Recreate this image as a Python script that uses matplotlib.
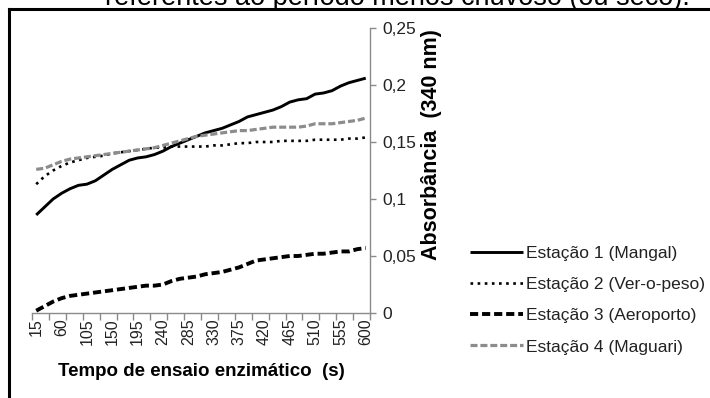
import matplotlib.pyplot as plt
from matplotlib.lines import Line2D
from matplotlib.ticker import FixedLocator, FuncFormatter

plt.rcParams['font.family'] = ['Liberation Sans', 'DejaVu Sans']

# Tempo (s) every 15 s from 15 to 600
tempo = list(range(15, 601, 15))

est1 = [0.086, 0.093, 0.100, 0.105, 0.109, 0.112, 0.113, 0.116, 0.121, 0.126,
        0.130, 0.134, 0.136, 0.137, 0.139, 0.142, 0.146, 0.149, 0.152, 0.155,
        0.158, 0.160, 0.162, 0.165, 0.168, 0.172, 0.174, 0.176, 0.178, 0.181,
        0.185, 0.187, 0.188, 0.192, 0.193, 0.195, 0.199, 0.202, 0.204, 0.206]
est2 = [0.113, 0.120, 0.125, 0.129, 0.132, 0.134, 0.136, 0.137, 0.138, 0.140,
        0.141, 0.142, 0.143, 0.144, 0.145, 0.145, 0.146, 0.146, 0.146, 0.146,
        0.146, 0.147, 0.147, 0.148, 0.149, 0.149, 0.150, 0.150, 0.150, 0.151,
        0.151, 0.151, 0.151, 0.152, 0.152, 0.152, 0.152, 0.153, 0.153, 0.154]
est3 = [0.002, 0.006, 0.010, 0.013, 0.015, 0.016, 0.017, 0.018, 0.019, 0.020,
        0.021, 0.022, 0.023, 0.024, 0.024, 0.025, 0.028, 0.030, 0.031, 0.032,
        0.034, 0.035, 0.036, 0.038, 0.040, 0.043, 0.046, 0.047, 0.048, 0.049,
        0.050, 0.050, 0.051, 0.052, 0.052, 0.053, 0.054, 0.054, 0.056, 0.057]
est4 = [0.126, 0.127, 0.130, 0.133, 0.135, 0.136, 0.137, 0.138, 0.139, 0.140,
        0.141, 0.142, 0.143, 0.144, 0.145, 0.147, 0.149, 0.151, 0.153, 0.155,
        0.156, 0.157, 0.158, 0.159, 0.160, 0.160, 0.161, 0.162, 0.163, 0.163,
        0.163, 0.163, 0.164, 0.166, 0.166, 0.166, 0.167, 0.168, 0.169, 0.171]

labels = ['Estação 1 (Mangal)', 'Estação 2 (Ver-o-peso)',
          'Estação 3 (Aeroporto)', 'Estação 4 (Maguari)']

x_ticklabels = tempo[::3]
y_ticks = [0, 0.05, 0.1, 0.15, 0.2, 0.25]

W, H = 710, 398
fig = plt.figure(figsize=(W / 100, H / 100), dpi=100)
ax = fig.add_axes([32 / W, 1 - 313 / H, (370 - 32) / W, (313 - 28) / H])

ax.plot(tempo, est1, color='black', lw=2.1, solid_capstyle='butt')
ax.plot(tempo, est2, color='black', lw=1.9, linestyle=(0, (1, 1.7)))
ax.plot(tempo, est3, color='black', lw=2.8, linestyle=(0, (2.1, 1.0)))
ax.plot(tempo, est4, color='#8c8c8c', lw=2.3, linestyle=(0, (2.2, 0.9)))

ax.set_xlim(7.5, 607.5)
ax.set_ylim(0, 0.25)

for s in ['top', 'left']:
    ax.spines[s].set_visible(False)
for s in ['bottom', 'right']:
    ax.spines[s].set_color('#8a8a8a')
    ax.spines[s].set_linewidth(1.0)

# x axis: labels at every 3rd category, tick marks at every 2nd category boundary
ax.xaxis.set_major_locator(FixedLocator(x_ticklabels))
ax.xaxis.set_minor_locator(FixedLocator([7.5 + 30 * k for k in range(21)]))
ax.tick_params(axis='x', which='major', length=0, pad=4, labelsize=11.5,
               labelrotation=90, labelcolor='#222222')
ax.tick_params(axis='x', which='minor', length=5, width=1, color='#8a8a8a',
               direction='out')

ax.yaxis.tick_right()
ax.set_yticks(y_ticks)
ax.yaxis.set_major_formatter(FuncFormatter(lambda v, p: ('%g' % v).replace('.', ',')))
ax.tick_params(axis='y', length=4, width=1, color='#8a8a8a', direction='out',
               labelsize=12.5, labelcolor='#222222', pad=5)

ax.set_xlabel('Tempo de ensaio enzimático  (s)', fontsize=13.5,
              fontweight='bold', labelpad=12.5)
fig.text(432 / W, 1 - 145 / H, 'Absorbância  (340 nm)', fontsize=15.5,
         fontweight='bold', rotation=90, ha='center', va='center')

leg = fig.legend(ax.get_lines(), labels, loc='upper left',
                 bbox_to_anchor=(470 / W, 1 - 246 / H), frameon=False,
                 fontsize=12.5, handlelength=3.05, handletextpad=0.15,
                 labelspacing=0.92, borderpad=0, borderaxespad=0)
for t in leg.get_texts():
    t.set_color('#222222')

# outer frame (left and top edges visible)
fig.add_artist(Line2D([9 / W, 9 / W], [0, 1 - 8.5 / H], color='black', lw=2.2,
                      transform=fig.transFigure))
fig.add_artist(Line2D([9 / W, 1], [1 - 8.5 / H, 1 - 8.5 / H], color='black',
                      lw=2.2, transform=fig.transFigure))

# clipped caption line from the page above
fig.text(397 / W, 1 - 5 / H, 'referentes ao período menos chuvoso (ou seco).',
         ha='center', va='baseline', fontsize=19.5, color='black')

fig.savefig('out.png', dpi=100)
